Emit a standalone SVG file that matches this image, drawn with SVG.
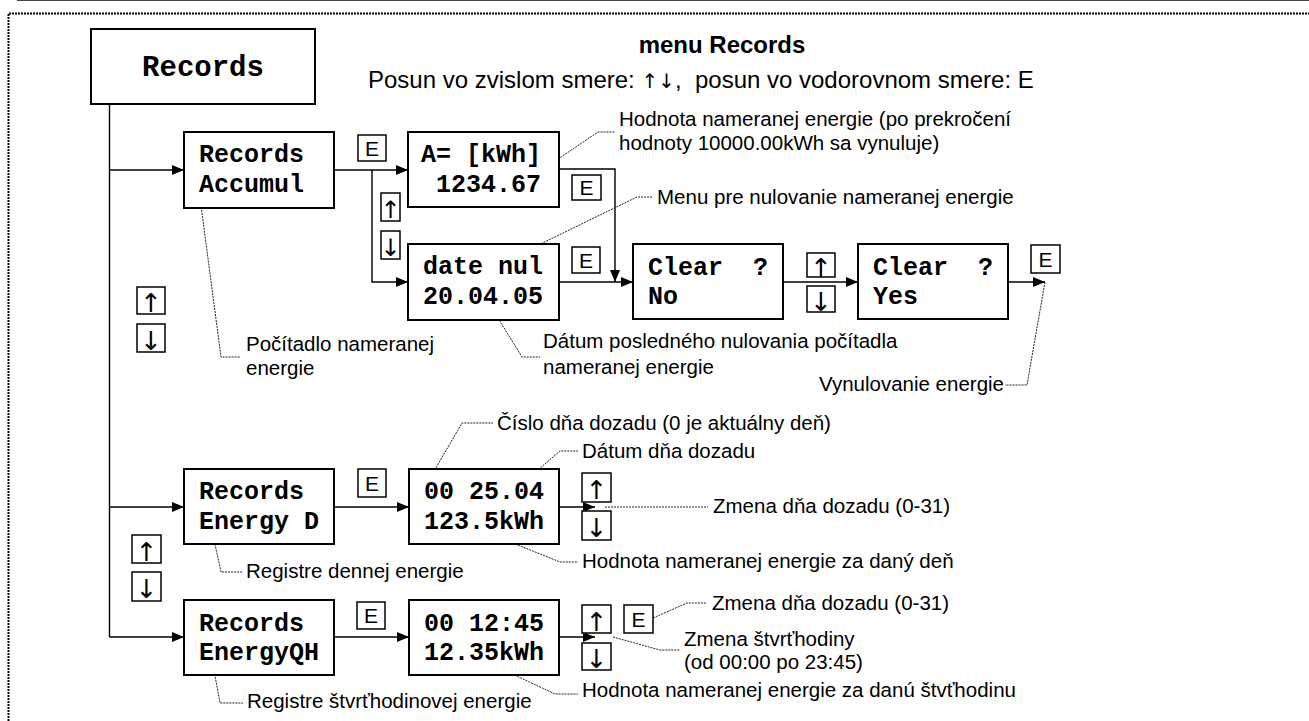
<svg xmlns="http://www.w3.org/2000/svg" width="1309" height="721" viewBox="0 0 1309 721">
<style>
.bg{fill:#fff}
.node{fill:#fff;stroke:#000;stroke-width:2}
.key{fill:#fff;stroke:#000;stroke-width:1.5}
.lcd{font-family:"Liberation Mono","Courier New",monospace;font-weight:bold;font-size:25px;fill:#000;white-space:pre}
.lbl{font-family:"Liberation Sans",Arial,sans-serif;font-size:20.5px;fill:#000}
.ktxt{font-family:"Liberation Sans",Arial,sans-serif;font-size:21px;fill:#000;text-anchor:middle}
.arr{font-family:"DejaVu Sans",sans-serif;font-size:26px;fill:#000;text-anchor:middle}
.arrn{font-family:"DejaVu Sans",sans-serif;font-size:24px;fill:#000;text-anchor:middle}
.conn{fill:none;stroke:#000;stroke-width:1.4}
.lead{fill:none;stroke:#222;stroke-width:1;stroke-dasharray:2 1}
</style>
<defs>
<marker id="ah" markerWidth="12" markerHeight="10" refX="12" refY="5" orient="auto" markerUnits="userSpaceOnUse">
<path d="M0,0 L12,5 L0,10 Z" fill="#000"/>
</marker>
</defs>
<rect class="bg" x="0" y="0" width="1309" height="721"/>
<line x1="17" y1="0.5" x2="1309" y2="0.5" stroke="#444" stroke-width="1"/>
<path d="M8.5,721 V13.5 H1309" fill="none" stroke="#000" stroke-width="2" stroke-dasharray="2 1"/>

<g id="title">
<text x="722" y="53" text-anchor="middle" style="font-family:'Liberation Sans',Arial,sans-serif;font-weight:bold;font-size:24px">menu Records</text>
<text x="368" y="88" style="font-family:'Liberation Sans',Arial,sans-serif;font-size:24px;white-space:pre">Posun vo zvislom smere: <tspan style="font-family:'DejaVu Sans',sans-serif;font-size:20px">↑↓</tspan>,  posun vo vodorovnom smere: E</text>
</g>

<g id="connectors">
<path class="conn" d="M109.5,104 V637"/>
<path class="conn" d="M109.5,170 H184" marker-end="url(#ah)"/>
<path class="conn" d="M109.5,507 H184" marker-end="url(#ah)"/>
<path class="conn" d="M109.5,637 H184" marker-end="url(#ah)"/>
<path class="conn" d="M334,170 H408" marker-end="url(#ah)"/>
<path class="conn" d="M372,170 V282 H408" marker-end="url(#ah)"/>
<path class="conn" d="M559,169 H615 V282" marker-end="url(#ah)"/>
<path class="conn" d="M559,282 H633" marker-end="url(#ah)"/>
<path class="conn" d="M783,282 H858" marker-end="url(#ah)"/>
<path class="conn" d="M1008,282 H1045" marker-end="url(#ah)"/>
<path class="conn" d="M334,507 H409" marker-end="url(#ah)"/>
<path class="conn" d="M559,507 H595" marker-end="url(#ah)"/>
<path class="conn" d="M334,637 H409" marker-end="url(#ah)"/>
<path class="conn" d="M559,637 H595" marker-end="url(#ah)"/>
</g>

<g id="leaders">
<path class="lead" d="M533,176 L598,132 H615"/>
<path class="lead" d="M522,253 L637,197 H653"/>
<path class="lead" d="M200,198 L221,357 H240"/>
<path class="lead" d="M493,310 L522,357 H540"/>
<path class="lead" d="M1045,282 L1027,385 H1005"/>
<path class="lead" d="M430,478 L462,423 H493"/>
<path class="lead" d="M504,499 L560,451 H578"/>
<path class="lead" d="M605,507 H708"/>
<path class="lead" d="M493,535 L560,562 H578"/>
<path class="lead" d="M213,535 L221,572 H243"/>
<path class="lead" d="M653,618 L687,603 H707"/>
<path class="lead" d="M613,637 L660,650 H680"/>
<path class="lead" d="M493,665 L555,694 H578"/>
<path class="lead" d="M213,665 L220,703 H243"/>
</g>

<g id="n-records">
<rect class="node" x="91" y="29" width="224" height="75"/>
<text class="lcd" x="203" y="76" text-anchor="middle" style="font-size:29px">Records</text>
</g>
<g id="n-accumul">
<rect class="node" x="184" y="132" width="150" height="76"/>
<text class="lcd" x="199" y="162">Records</text>
<text class="lcd" x="199" y="192">Accumul</text>
</g>
<g id="n-akwh">
<rect class="node" x="408" y="132" width="151" height="75"/>
<text class="lcd" x="421" y="162">A= [kWh]</text>
<text class="lcd" x="421" y="192"> 1234.67</text>
</g>
<g id="n-datenul">
<rect class="node" x="408" y="244" width="151" height="76"/>
<text class="lcd" x="423" y="274">date nul</text>
<text class="lcd" x="423" y="304">20.04.05</text>
</g>
<g id="n-clearno">
<rect class="node" x="633" y="244" width="150" height="75"/>
<text class="lcd" x="648" y="275">Clear  ?</text>
<text class="lcd" x="648" y="304">No</text>
</g>
<g id="n-clearyes">
<rect class="node" x="858" y="244" width="150" height="75"/>
<text class="lcd" x="873" y="275">Clear  ?</text>
<text class="lcd" x="873" y="304">Yes</text>
</g>
<g id="n-energyd">
<rect class="node" x="184" y="469" width="150" height="75"/>
<text class="lcd" x="199" y="499">Records</text>
<text class="lcd" x="199" y="529">Energy D</text>
</g>
<g id="n-day">
<rect class="node" x="409" y="469" width="150" height="75"/>
<text class="lcd" x="424" y="499">00 25.04</text>
<text class="lcd" x="424" y="529">123.5kWh</text>
</g>
<g id="n-energyqh">
<rect class="node" x="184" y="600" width="150" height="75"/>
<text class="lcd" x="199" y="631">Records</text>
<text class="lcd" x="199" y="660">EnergyQH</text>
</g>
<g id="n-qh">
<rect class="node" x="409" y="600" width="150" height="75"/>
<text class="lcd" x="424" y="631">00 12:45</text>
<text class="lcd" x="424" y="660">12.35kWh</text>
</g>

<g id="keys">
<rect class="key" x="358" y="135" width="28" height="26"/><text class="ktxt" x="372" y="156">E</text>
<rect class="key" x="381" y="193" width="19" height="28"/><text class="arrn" x="390.5" y="218">↑</text>
<rect class="key" x="381" y="231" width="19" height="28"/><text class="arrn" x="390.5" y="256">↓</text>
<rect class="key" x="572" y="175" width="29" height="25"/><text class="ktxt" x="586.5" y="195">E</text>
<rect class="key" x="572" y="247" width="28" height="26"/><text class="ktxt" x="586" y="268">E</text>
<rect class="key" x="807" y="253" width="28" height="24"/><text class="arr" x="821" y="277">↑</text>
<rect class="key" x="807" y="286" width="28" height="26"/><text class="arr" x="821" y="311">↓</text>
<rect class="key" x="1031" y="245" width="29" height="28"/><text class="ktxt" x="1045.5" y="267">E</text>
<rect class="key" x="137" y="287" width="28" height="27"/><text class="arr" x="151" y="312">↑</text>
<rect class="key" x="137" y="324" width="28" height="28"/><text class="arr" x="151" y="350">↓</text>
<rect class="key" x="358" y="469" width="28" height="28"/><text class="ktxt" x="372" y="491">E</text>
<rect class="key" x="582" y="473" width="29" height="29"/><text class="arr" x="596.5" y="499">↑</text>
<rect class="key" x="582" y="511" width="29" height="29"/><text class="arr" x="596.5" y="537">↓</text>
<rect class="key" x="132" y="535" width="29" height="28"/><text class="arr" x="146.5" y="561">↑</text>
<rect class="key" x="132" y="572" width="29" height="29"/><text class="arr" x="146.5" y="598">↓</text>
<rect class="key" x="357" y="602" width="28" height="27"/><text class="ktxt" x="371" y="623">E</text>
<rect class="key" x="582" y="605" width="29" height="28"/><text class="arr" x="596.5" y="631">↑</text>
<rect class="key" x="582" y="643" width="29" height="27"/><text class="arr" x="596.5" y="668">↓</text>
<rect class="key" x="624" y="605" width="29" height="28"/><text class="ktxt" x="638.5" y="627">E</text>
</g>

<g id="labels">
<text class="lbl" x="619" y="126">Hodnota nameranej energie (po prekročení</text>
<text class="lbl" x="619" y="150">hodnoty 10000.00kWh sa vynuluje)</text>
<text class="lbl" x="657" y="204">Menu pre nulovanie nameranej energie</text>
<text class="lbl" x="246" y="351">Počítadlo nameranej</text>
<text class="lbl" x="246" y="375">energie</text>
<text class="lbl" x="543" y="348">Dátum posledného nulovania počítadla</text>
<text class="lbl" x="543" y="374">nameranej energie</text>
<text class="lbl" x="1004" y="391" text-anchor="end">Vynulovanie energie</text>
<text class="lbl" x="497" y="430">Číslo dňa dozadu (0 je aktuálny deň)</text>
<text class="lbl" x="582" y="458">Dátum dňa dozadu</text>
<text class="lbl" x="713" y="513">Zmena dňa dozadu (0-31)</text>
<text class="lbl" x="582" y="568">Hodnota nameranej energie za daný deň</text>
<text class="lbl" x="246" y="578">Registre dennej energie</text>
<text class="lbl" x="712" y="610">Zmena dňa dozadu (0-31)</text>
<text class="lbl" x="684" y="646">Zmena štvrťhodiny</text>
<text class="lbl" x="684" y="669">(od 00:00 po 23:45)</text>
<text class="lbl" x="582" y="697">Hodnota nameranej energie za danú štvťhodinu</text>
<text class="lbl" x="247" y="708">Registre štvrťhodinovej energie</text>
</g>
</svg>
